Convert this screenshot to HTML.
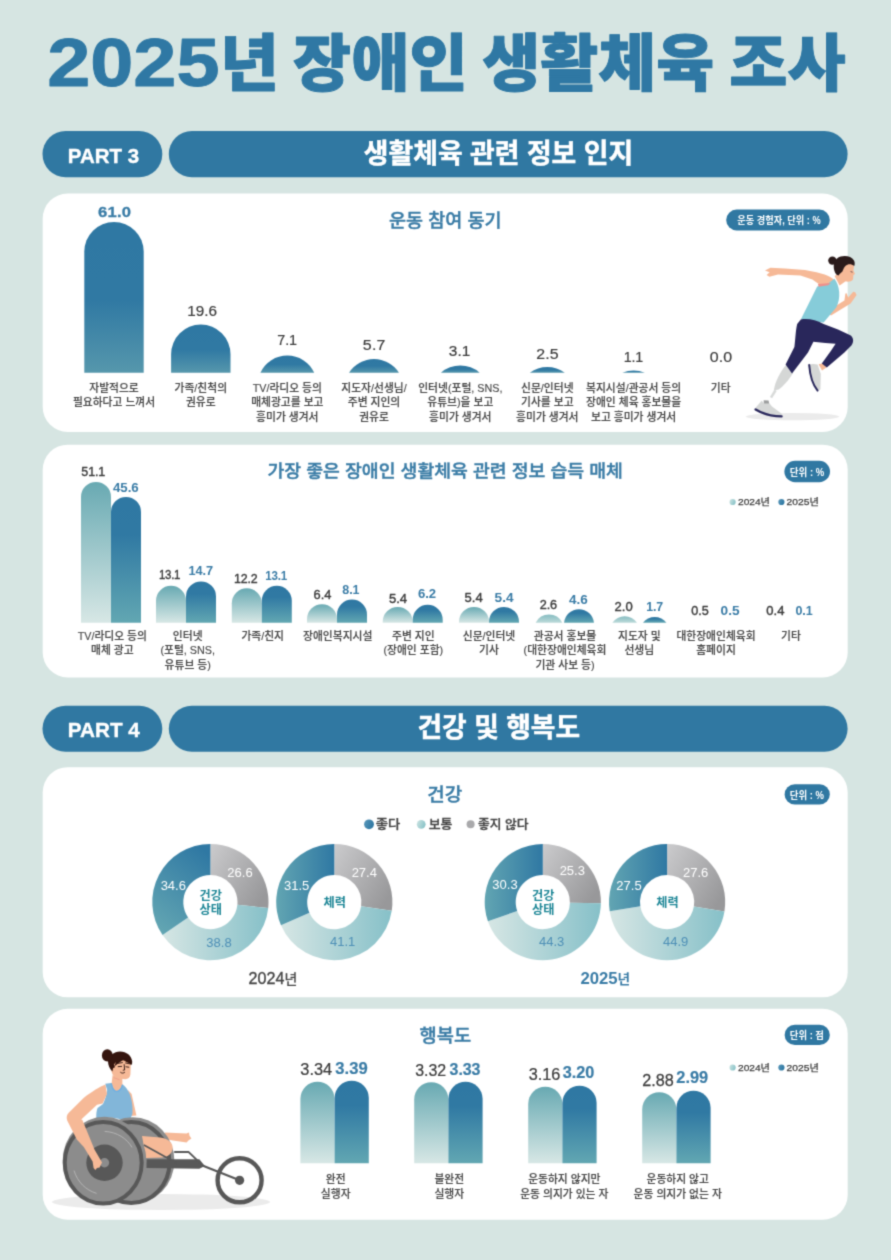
<!DOCTYPE html>
<html lang="ko">
<head>
<meta charset="utf-8">
<title>2025년 장애인 생활체육 조사</title>
<style>
html,body{margin:0;padding:0;background:#d6e5e2;}
body{width:891px;height:1260px;overflow:hidden;}
svg{display:block;}
svg text{font-family:"Liberation Sans","Noto Sans CJK KR",sans-serif;}
</style>
</head>
<body>
<svg width="891" height="1260" viewBox="0 0 891 1260">
<g filter="url(#soft)">
<rect width="891" height="1260" fill="#d6e5e2"/>
<defs>
<filter id="soft" x="0" y="0" width="891" height="1260" filterUnits="userSpaceOnUse" color-interpolation-filters="sRGB"><feConvolveMatrix order="3" kernelMatrix="1 4 1 4 16 4 1 4 1" divisor="36" edgeMode="duplicate" preserveAlpha="true"/></filter>
<linearGradient id="gS" x1="0" y1="0" x2="0" y2="1"><stop offset="0" stop-color="#2f78a3"/><stop offset="0.52" stop-color="#3079a3"/><stop offset="1" stop-color="#5697ac"/></linearGradient>
<linearGradient id="gA" x1="0" y1="0" x2="0" y2="1"><stop offset="0" stop-color="#68a9b2"/><stop offset="0.25" stop-color="#84b9bf"/><stop offset="1" stop-color="#d7e7e5"/></linearGradient>
<linearGradient id="gA2" x1="0" y1="0" x2="0" y2="1"><stop offset="0" stop-color="#86bcc1"/><stop offset="1" stop-color="#bcdad9"/></linearGradient>
<linearGradient id="gB" x1="0" y1="0" x2="0" y2="1"><stop offset="0" stop-color="#2f78a3"/><stop offset="0.3" stop-color="#3079a3"/><stop offset="1" stop-color="#62a7b2"/></linearGradient>
<linearGradient id="dGray" x1="0" y1="0" x2="1" y2="0.7"><stop offset="0" stop-color="#cbcbcd"/><stop offset="1" stop-color="#98989a"/></linearGradient>
<linearGradient id="dLight" x1="0" y1="0" x2="1" y2="0"><stop offset="0" stop-color="#d6e6e4"/><stop offset="1" stop-color="#86c0c8"/></linearGradient>
<linearGradient id="dBlue" x1="0.25" y1="1" x2="0.75" y2="0"><stop offset="0" stop-color="#62a5b2"/><stop offset="1" stop-color="#2f78a3"/></linearGradient>
<linearGradient id="lgB" x1="0" y1="0" x2="1" y2="0.4"><stop offset="0" stop-color="#5a98ba"/><stop offset="1" stop-color="#2f78a3"/></linearGradient>
<linearGradient id="lgL" x1="0" y1="0" x2="1" y2="0.4"><stop offset="0" stop-color="#cfe5e3"/><stop offset="1" stop-color="#8cc4c9"/></linearGradient>
<linearGradient id="dBlueH" x1="0" y1="0" x2="1" y2="0"><stop offset="0" stop-color="#62a5b2"/><stop offset="1" stop-color="#2f78a3"/></linearGradient>
</defs>
<text font-weight="900" fill="#2f78a4" stroke="#2f78a4" stroke-width="0.9" stroke-linejoin="round"><tspan x="47.2" y="85.5" font-size="68.5" font-weight="700" textLength="172.3" lengthAdjust="spacingAndGlyphs">2025</tspan><tspan x="219.9" y="85.8" font-size="62.4" textLength="59" lengthAdjust="spacingAndGlyphs">년</tspan><tspan font-size="10"> </tspan><tspan x="292.8" y="85.8" font-size="62.4" textLength="175" lengthAdjust="spacingAndGlyphs">장애인</tspan><tspan font-size="10"> </tspan><tspan x="482.2" y="85.8" font-size="62.4" textLength="232" lengthAdjust="spacingAndGlyphs">생활체육</tspan><tspan font-size="10"> </tspan><tspan x="729.2" y="85.8" font-size="62.4" textLength="116.5" lengthAdjust="spacingAndGlyphs">조사</tspan></text>
<rect x="42.5" y="131" width="119.8" height="46.2" rx="23.1" fill="#3078a2"/>
<rect x="168.8" y="131" width="678.8" height="46.2" rx="23.1" fill="#3078a2"/>
<text x="103.5" y="162.9" font-size="20.8" font-weight="700" fill="#fff" text-anchor="middle" textLength="71.3" lengthAdjust="spacingAndGlyphs" stroke="#fff" stroke-width="0.4" stroke-linejoin="round">PART 3</text>
<text x="498.5" y="162.6" font-size="27.2" font-weight="700" fill="#fff" text-anchor="middle" textLength="269.3" lengthAdjust="spacingAndGlyphs" stroke="#fff" stroke-width="0.5" stroke-linejoin="round">생활체육 관련 정보 인지</text>
<rect x="42.5" y="705.7" width="119.8" height="46.1" rx="23.0" fill="#3078a2"/>
<rect x="168.8" y="705.7" width="678.8" height="46.1" rx="23.0" fill="#3078a2"/>
<text x="103.8" y="737.2" font-size="20.8" font-weight="700" fill="#fff" text-anchor="middle" textLength="72.0" lengthAdjust="spacingAndGlyphs" stroke="#fff" stroke-width="0.4" stroke-linejoin="round">PART 4</text>
<text x="498.8" y="736.8" font-size="27.2" font-weight="700" fill="#fff" text-anchor="middle" textLength="162.6" lengthAdjust="spacingAndGlyphs" stroke="#fff" stroke-width="0.5" stroke-linejoin="round">건강 및 행복도</text>
<rect x="42.7" y="193.5" width="805.0" height="238.4" rx="25" fill="#fff"/>
<rect x="42.7" y="444.7" width="805.0" height="232.7" rx="25" fill="#fff"/>
<rect x="42.7" y="767.2" width="805.0" height="230.1" rx="25" fill="#fff"/>
<rect x="42.7" y="1008.8" width="805.0" height="210.9" rx="25" fill="#fff"/>
<text x="445.3" y="226.6" font-size="18" font-weight="500" fill="#3a7ca6" text-anchor="middle" textLength="112.4" lengthAdjust="spacingAndGlyphs" stroke="#3a7ca6" stroke-width="0.4" stroke-linejoin="round">운동 참여 동기</text>
<rect x="726.2" y="209.6" width="103.6" height="20.8" rx="10.4" fill="#3078a2"/>
<text x="779.0" y="224.2" font-size="10.3" font-weight="700" fill="#fff" text-anchor="middle" textLength="83.4" lengthAdjust="spacingAndGlyphs">운동 경험자, 단위 : %</text>
<path d="M84.30 372.70V251.62A29.70 29.70 0 0 1 143.70 251.62V372.70Z" fill="url(#gS)"/>
<text transform="translate(114.5 217.0) scale(1.1084680787311738 1)" font-size="15.0" font-weight="700" fill="#3a7ca6" text-anchor="middle" textLength="30.0" lengthAdjust="spacing" stroke="#3a7ca6" stroke-width="0.3" stroke-linejoin="round">61.0</text>
<text transform="translate(114.0 391.7) scale(0.945 1)" font-size="11.4" font-weight="500" fill="#484848" text-anchor="middle" stroke="#484848" stroke-width="0.15" stroke-linejoin="round">자발적으로</text>
<text transform="translate(114.0 406.3) scale(0.945 1)" font-size="11.4" font-weight="500" fill="#484848" text-anchor="middle" stroke="#484848" stroke-width="0.15" stroke-linejoin="round">필요하다고 느껴서</text>
<path d="M171.10 372.70V354.29A29.70 29.70 0 0 1 230.50 354.29V372.70Z" fill="url(#gS)"/>
<text transform="translate(202.2 315.6) scale(1.0059673194525722 1)" font-size="15.2" font-weight="400" fill="#3c3c3c" text-anchor="middle" textLength="29.6" lengthAdjust="spacing" stroke="#3c3c3c" stroke-width="0.2" stroke-linejoin="round">19.6</text>
<text transform="translate(200.8 391.7) scale(0.945 1)" font-size="11.4" font-weight="500" fill="#484848" text-anchor="middle" stroke="#484848" stroke-width="0.15" stroke-linejoin="round">가족/친척의</text>
<text transform="translate(200.8 406.3) scale(0.945 1)" font-size="11.4" font-weight="500" fill="#484848" text-anchor="middle" stroke="#484848" stroke-width="0.15" stroke-linejoin="round">권유로</text>
<path d="M260.40 372.70A29.70 29.70 0 0 1 314.20 372.70Z" fill="url(#gS)"/>
<text transform="translate(287.2 345.1) scale(0.9493917241442265 1)" font-size="15.2" font-weight="400" fill="#3c3c3c" text-anchor="middle" textLength="20.9" lengthAdjust="spacing" stroke="#3c3c3c" stroke-width="0.2" stroke-linejoin="round">7.1</text>
<text transform="translate(287.3 391.7) scale(0.945 1)" font-size="11.4" font-weight="500" fill="#484848" text-anchor="middle" stroke="#484848" stroke-width="0.15" stroke-linejoin="round">TV/라디오 등의</text>
<text transform="translate(287.3 406.3) scale(0.945 1)" font-size="11.4" font-weight="500" fill="#484848" text-anchor="middle" stroke="#484848" stroke-width="0.15" stroke-linejoin="round">매체광고를 보고</text>
<text transform="translate(287.3 421.0) scale(0.945 1)" font-size="11.4" font-weight="500" fill="#484848" text-anchor="middle" stroke="#484848" stroke-width="0.15" stroke-linejoin="round">흥미가 생겨서</text>
<path d="M349.02 372.70A29.70 29.70 0 0 1 398.98 372.70Z" fill="url(#gS)"/>
<text transform="translate(374.1 350.4) scale(1.0516211305356782 1)" font-size="15.2" font-weight="400" fill="#3c3c3c" text-anchor="middle" textLength="21.4" lengthAdjust="spacing" stroke="#3c3c3c" stroke-width="0.2" stroke-linejoin="round">5.7</text>
<text transform="translate(374.0 391.7) scale(0.945 1)" font-size="11.4" font-weight="500" fill="#484848" text-anchor="middle" stroke="#484848" stroke-width="0.15" stroke-linejoin="round">지도자/선생님/</text>
<text transform="translate(374.0 406.3) scale(0.945 1)" font-size="11.4" font-weight="500" fill="#484848" text-anchor="middle" stroke="#484848" stroke-width="0.15" stroke-linejoin="round">주변 지인의</text>
<text transform="translate(374.0 421.0) scale(0.945 1)" font-size="11.4" font-weight="500" fill="#484848" text-anchor="middle" stroke="#484848" stroke-width="0.15" stroke-linejoin="round">권유로</text>
<path d="M440.93 372.70A29.70 29.70 0 0 1 479.67 372.70Z" fill="url(#gS)"/>
<text transform="translate(459.6 356.1) scale(1.0140609462147308 1)" font-size="15.2" font-weight="400" fill="#3c3c3c" text-anchor="middle" textLength="21.2" lengthAdjust="spacing" stroke="#3c3c3c" stroke-width="0.2" stroke-linejoin="round">3.1</text>
<text transform="translate(460.3 391.7) scale(0.945 1)" font-size="11.4" font-weight="500" fill="#484848" text-anchor="middle" stroke="#484848" stroke-width="0.15" stroke-linejoin="round">인터넷(포털, SNS,</text>
<text transform="translate(460.3 406.3) scale(0.945 1)" font-size="11.4" font-weight="500" fill="#484848" text-anchor="middle" stroke="#484848" stroke-width="0.15" stroke-linejoin="round">유튜브)을 보고</text>
<text transform="translate(460.3 421.0) scale(0.945 1)" font-size="11.4" font-weight="500" fill="#484848" text-anchor="middle" stroke="#484848" stroke-width="0.15" stroke-linejoin="round">흥미가 생겨서</text>
<path d="M529.80 372.70A29.70 29.70 0 0 1 564.80 372.70Z" fill="url(#gS)"/>
<text transform="translate(547.5 358.7) scale(1.0478803684000229 1)" font-size="15.2" font-weight="400" fill="#3c3c3c" text-anchor="middle" textLength="21.4" lengthAdjust="spacing" stroke="#3c3c3c" stroke-width="0.2" stroke-linejoin="round">2.5</text>
<text transform="translate(547.3 391.7) scale(0.945 1)" font-size="11.4" font-weight="500" fill="#484848" text-anchor="middle" stroke="#484848" stroke-width="0.15" stroke-linejoin="round">신문/인터넷</text>
<text transform="translate(547.3 406.3) scale(0.945 1)" font-size="11.4" font-weight="500" fill="#484848" text-anchor="middle" stroke="#484848" stroke-width="0.15" stroke-linejoin="round">기사를 보고</text>
<text transform="translate(547.3 421.0) scale(0.945 1)" font-size="11.4" font-weight="500" fill="#484848" text-anchor="middle" stroke="#484848" stroke-width="0.15" stroke-linejoin="round">흥미가 생겨서</text>
<path d="M622.31 372.70A29.70 29.70 0 0 1 644.89 372.70Z" fill="url(#gS)"/>
<text transform="translate(633.4 361.7) scale(0.9378664030796259 1)" font-size="15.2" font-weight="400" fill="#3c3c3c" text-anchor="middle" textLength="20.8" lengthAdjust="spacing" stroke="#3c3c3c" stroke-width="0.2" stroke-linejoin="round">1.1</text>
<text transform="translate(633.6 391.7) scale(0.945 1)" font-size="11.4" font-weight="500" fill="#484848" text-anchor="middle" stroke="#484848" stroke-width="0.15" stroke-linejoin="round">복지시설/관공서 등의</text>
<text transform="translate(633.6 406.3) scale(0.945 1)" font-size="11.4" font-weight="500" fill="#484848" text-anchor="middle" stroke="#484848" stroke-width="0.15" stroke-linejoin="round">장애인 체육 홍보물을</text>
<text transform="translate(633.6 421.0) scale(0.945 1)" font-size="11.4" font-weight="500" fill="#484848" text-anchor="middle" stroke="#484848" stroke-width="0.15" stroke-linejoin="round">보고 흥미가 생겨서</text>
<text transform="translate(720.9 361.7) scale(1.0516211305356802 1)" font-size="15.2" font-weight="400" fill="#3c3c3c" text-anchor="middle" textLength="21.4" lengthAdjust="spacing" stroke="#3c3c3c" stroke-width="0.2" stroke-linejoin="round">0.0</text>
<text transform="translate(720.7 391.7) scale(0.945 1)" font-size="11.4" font-weight="500" fill="#484848" text-anchor="middle" stroke="#484848" stroke-width="0.15" stroke-linejoin="round">기타</text>
<text x="445.2" y="476.7" font-size="17.5" font-weight="500" fill="#3a7ca6" text-anchor="middle" textLength="355.5" lengthAdjust="spacingAndGlyphs" stroke="#3a7ca6" stroke-width="0.4" stroke-linejoin="round">가장 좋은 장애인 생활체육 관련 정보 습득 매체</text>
<rect x="784.4" y="460.8" width="45.6" height="21.4" rx="10.7" fill="#3078a2"/>
<text x="807.0" y="475.6" font-size="10.3" font-weight="700" fill="#fff" text-anchor="middle" textLength="34.5" lengthAdjust="spacingAndGlyphs">단위 : %</text>
<circle cx="732.6" cy="502" r="3.1" fill="url(#lgL)"/>
<circle cx="781.4" cy="502" r="3.1" fill="url(#lgB)"/>
<text font-weight="400" fill="#3c3c3c" stroke="#3c3c3c" stroke-width="0.25"><tspan x="738.0" y="505.3" font-size="9.6" textLength="22.6" lengthAdjust="spacingAndGlyphs">2024</tspan><tspan x="760.6" y="505.3" font-size="8.6" textLength="9.4" lengthAdjust="spacingAndGlyphs">년</tspan></text>
<text font-weight="400" fill="#3c3c3c" stroke="#3c3c3c" stroke-width="0.25"><tspan x="786.6" y="505.3" font-size="9.6" textLength="22.8" lengthAdjust="spacingAndGlyphs">2025</tspan><tspan x="809.4" y="505.3" font-size="8.6" textLength="9.4" lengthAdjust="spacingAndGlyphs">년</tspan></text>
<path d="M81.00 622.70V496.89A15.00 15.00 0 0 1 111.00 496.89V622.70Z" fill="url(#gA)"/>
<path d="M111.00 622.70V511.94A15.00 15.00 0 0 1 141.00 511.94V622.70Z" fill="url(#gB)"/>
<text transform="translate(93.3 476.0) scale(0.9560537929100038 1)" font-size="13.1" font-weight="400" fill="#3c3c3c" text-anchor="middle" textLength="25.2" lengthAdjust="spacing" stroke="#3c3c3c" stroke-width="0.4" stroke-linejoin="round">51.1</text>
<text transform="translate(125.8 492.3) scale(0.9915112753900163 1)" font-size="13.4" font-weight="700" fill="#3a7ca6" text-anchor="middle" textLength="26.0" lengthAdjust="spacing">45.6</text>
<text transform="translate(112.3 640.0) scale(0.945 1)" font-size="11.4" font-weight="500" fill="#484848" text-anchor="middle" stroke="#484848" stroke-width="0.15" stroke-linejoin="round">TV/라디오 등의</text>
<text transform="translate(112.3 654.4) scale(0.945 1)" font-size="11.4" font-weight="500" fill="#484848" text-anchor="middle" stroke="#484848" stroke-width="0.15" stroke-linejoin="round">매체 광고</text>
<path d="M156.00 622.70V600.86A15.00 15.00 0 0 1 186.00 600.86V622.70Z" fill="url(#gA)"/>
<path d="M186.00 622.70V596.48A15.00 15.00 0 0 1 216.00 596.48V622.70Z" fill="url(#gB)"/>
<text transform="translate(169.7 579.4) scale(0.8726085473532643 1)" font-size="13.1" font-weight="400" fill="#3c3c3c" text-anchor="middle" textLength="24.6" lengthAdjust="spacing" stroke="#3c3c3c" stroke-width="0.4" stroke-linejoin="round">13.1</text>
<text transform="translate(200.8 574.8) scale(0.9513378151489201 1)" font-size="13.4" font-weight="700" fill="#3a7ca6" text-anchor="middle" textLength="25.8" lengthAdjust="spacing">14.7</text>
<text transform="translate(187.7 640.0) scale(0.945 1)" font-size="11.4" font-weight="500" fill="#484848" text-anchor="middle" stroke="#484848" stroke-width="0.15" stroke-linejoin="round">인터넷</text>
<text transform="translate(187.7 654.4) scale(0.945 1)" font-size="11.4" font-weight="500" fill="#484848" text-anchor="middle" stroke="#484848" stroke-width="0.15" stroke-linejoin="round">(포털, SNS,</text>
<text transform="translate(187.7 668.8) scale(0.945 1)" font-size="11.4" font-weight="500" fill="#484848" text-anchor="middle" stroke="#484848" stroke-width="0.15" stroke-linejoin="round">유튜브 등)</text>
<path d="M231.80 622.70V603.32A15.00 15.00 0 0 1 261.80 603.32V622.70Z" fill="url(#gA)"/>
<path d="M261.80 622.70V600.86A15.00 15.00 0 0 1 291.80 600.86V622.70Z" fill="url(#gB)"/>
<text transform="translate(245.8 582.6) scale(0.9465210141404 1)" font-size="13.1" font-weight="400" fill="#3c3c3c" text-anchor="middle" textLength="25.1" lengthAdjust="spacing" stroke="#3c3c3c" stroke-width="0.4" stroke-linejoin="round">12.2</text>
<text transform="translate(276.2 579.8) scale(0.8664970479140197 1)" font-size="13.4" font-weight="700" fill="#3a7ca6" text-anchor="middle" textLength="25.2" lengthAdjust="spacing">13.1</text>
<text transform="translate(262.7 640.0) scale(0.945 1)" font-size="11.4" font-weight="500" fill="#484848" text-anchor="middle" stroke="#484848" stroke-width="0.15" stroke-linejoin="round">가족/친지</text>
<path d="M307.00 622.70V619.19A15.00 15.00 0 0 1 337.00 619.19V622.70Z" fill="url(#gA)"/>
<path d="M337.00 622.70V614.54A15.00 15.00 0 0 1 367.00 614.54V622.70Z" fill="url(#gB)"/>
<text transform="translate(322.5 599.1) scale(0.9819901354533305 1)" font-size="13.1" font-weight="400" fill="#3c3c3c" text-anchor="middle" textLength="18.1" lengthAdjust="spacing" stroke="#3c3c3c" stroke-width="0.4" stroke-linejoin="round">6.4</text>
<text transform="translate(350.9 593.6) scale(0.9339017934574768 1)" font-size="13.4" font-weight="700" fill="#3a7ca6" text-anchor="middle" textLength="18.3" lengthAdjust="spacing">8.1</text>
<text transform="translate(337.7 640.0) scale(0.945 1)" font-size="11.4" font-weight="500" fill="#484848" text-anchor="middle" stroke="#484848" stroke-width="0.15" stroke-linejoin="round">장애인복지시설</text>
<path d="M382.70 622.70V621.93A15.00 15.00 0 0 1 412.70 621.93V622.70Z" fill="url(#gA)"/>
<path d="M412.70 622.70V619.74A15.00 15.00 0 0 1 442.70 619.74V622.70Z" fill="url(#gB)"/>
<text transform="translate(398.0 602.7) scale(0.9996045715888643 1)" font-size="13.1" font-weight="400" fill="#3c3c3c" text-anchor="middle" textLength="18.2" lengthAdjust="spacing" stroke="#3c3c3c" stroke-width="0.4" stroke-linejoin="round">5.4</text>
<text transform="translate(427.0 597.9) scale(0.9816607605371808 1)" font-size="13.4" font-weight="700" fill="#3a7ca6" text-anchor="middle" textLength="18.5" lengthAdjust="spacing">6.2</text>
<text transform="translate(413.3 640.0) scale(0.945 1)" font-size="11.4" font-weight="500" fill="#484848" text-anchor="middle" stroke="#484848" stroke-width="0.15" stroke-linejoin="round">주변 지인</text>
<text transform="translate(413.3 654.4) scale(0.945 1)" font-size="11.4" font-weight="500" fill="#484848" text-anchor="middle" stroke="#484848" stroke-width="0.15" stroke-linejoin="round">(장애인 포함)</text>
<path d="M459.00 622.70V621.93A15.00 15.00 0 0 1 489.00 621.93V622.70Z" fill="url(#gA)"/>
<path d="M489.00 622.70V621.93A15.00 15.00 0 0 1 519.00 621.93V622.70Z" fill="url(#gB)"/>
<text transform="translate(473.6 602.4) scale(0.9952082858058469 1)" font-size="13.1" font-weight="400" fill="#3c3c3c" text-anchor="middle" textLength="18.2" lengthAdjust="spacing" stroke="#3c3c3c" stroke-width="0.4" stroke-linejoin="round">5.4</text>
<text transform="translate(504.1 602.3) scale(1.0203073493120254 1)" font-size="13.4" font-weight="700" fill="#3a7ca6" text-anchor="middle" textLength="18.7" lengthAdjust="spacing">5.4</text>
<text transform="translate(489.0 640.0) scale(0.945 1)" font-size="11.4" font-weight="500" fill="#484848" text-anchor="middle" stroke="#484848" stroke-width="0.15" stroke-linejoin="round">신문/인터넷</text>
<text transform="translate(489.0 654.4) scale(0.945 1)" font-size="11.4" font-weight="500" fill="#484848" text-anchor="middle" stroke="#484848" stroke-width="0.15" stroke-linejoin="round">기사</text>
<path d="M535.67 622.70A15.00 15.00 0 0 1 562.33 622.70Z" fill="url(#gA2)"/>
<path d="M564.07 622.70A15.00 15.00 0 0 1 593.93 622.70Z" fill="url(#gB)"/>
<text transform="translate(548.4 609.1) scale(0.9687273520313099 1)" font-size="13.1" font-weight="400" fill="#3c3c3c" text-anchor="middle" textLength="18.1" lengthAdjust="spacing" stroke="#3c3c3c" stroke-width="0.4" stroke-linejoin="round">2.6</text>
<text transform="translate(578.3 603.8) scale(1.007466468691579 1)" font-size="13.4" font-weight="700" fill="#3a7ca6" text-anchor="middle" textLength="18.7" lengthAdjust="spacing">4.6</text>
<text transform="translate(565.0 640.0) scale(0.945 1)" font-size="11.4" font-weight="500" fill="#484848" text-anchor="middle" stroke="#484848" stroke-width="0.15" stroke-linejoin="round">관공서 홍보물</text>
<text transform="translate(565.0 654.4) scale(0.945 1)" font-size="11.4" font-weight="500" fill="#484848" text-anchor="middle" stroke="#484848" stroke-width="0.15" stroke-linejoin="round">(대한장애인체육회</text>
<text transform="translate(565.0 668.8) scale(0.945 1)" font-size="11.4" font-weight="500" fill="#484848" text-anchor="middle" stroke="#484848" stroke-width="0.15" stroke-linejoin="round">기관 사보 등)</text>
<path d="M612.36 622.70A15.00 15.00 0 0 1 637.04 622.70Z" fill="url(#gA2)"/>
<path d="M642.97 622.70A15.00 15.00 0 0 1 666.43 622.70Z" fill="url(#gB)"/>
<text transform="translate(623.6 611.0) scale(0.9952082858058444 1)" font-size="13.1" font-weight="400" fill="#3c3c3c" text-anchor="middle" textLength="18.2" lengthAdjust="spacing" stroke="#3c3c3c" stroke-width="0.4" stroke-linejoin="round">2.0</text>
<text transform="translate(654.7 611.0) scale(0.9207712414915222 1)" font-size="13.4" font-weight="700" fill="#3a7ca6" text-anchor="middle" textLength="18.2" lengthAdjust="spacing">1.7</text>
<text transform="translate(639.3 640.0) scale(0.945 1)" font-size="11.4" font-weight="500" fill="#484848" text-anchor="middle" stroke="#484848" stroke-width="0.15" stroke-linejoin="round">지도자 및</text>
<text transform="translate(639.3 654.4) scale(0.945 1)" font-size="11.4" font-weight="500" fill="#484848" text-anchor="middle" stroke="#484848" stroke-width="0.15" stroke-linejoin="round">선생님</text>
<text transform="translate(700.0 615.0) scale(0.9642963477808538 1)" font-size="13.1" font-weight="400" fill="#3c3c3c" text-anchor="middle" textLength="18.0" lengthAdjust="spacing" stroke="#3c3c3c" stroke-width="0.4" stroke-linejoin="round">0.5</text>
<text transform="translate(730.1 615.0) scale(1.0203073493120254 1)" font-size="13.4" font-weight="700" fill="#3a7ca6" text-anchor="middle" textLength="18.7" lengthAdjust="spacing">0.5</text>
<text transform="translate(716.0 640.0) scale(0.945 1)" font-size="11.4" font-weight="500" fill="#484848" text-anchor="middle" stroke="#484848" stroke-width="0.15" stroke-linejoin="round">대한장애인체육회</text>
<text transform="translate(716.0 654.4) scale(0.945 1)" font-size="11.4" font-weight="500" fill="#484848" text-anchor="middle" stroke="#484848" stroke-width="0.15" stroke-linejoin="round">홈페이지</text>
<text transform="translate(775.4 615.0) scale(0.9952082858058444 1)" font-size="13.1" font-weight="400" fill="#3c3c3c" text-anchor="middle" textLength="18.2" lengthAdjust="spacing" stroke="#3c3c3c" stroke-width="0.4" stroke-linejoin="round">0.4</text>
<text transform="translate(804.1 615.0) scale(0.9339017934574743 1)" font-size="13.4" font-weight="700" fill="#3a7ca6" text-anchor="middle" textLength="18.3" lengthAdjust="spacing">0.1</text>
<text transform="translate(791.0 640.0) scale(0.945 1)" font-size="11.4" font-weight="500" fill="#484848" text-anchor="middle" stroke="#484848" stroke-width="0.15" stroke-linejoin="round">기타</text>
<text x="444.7" y="800.8" font-size="18" font-weight="500" fill="#3a7ca6" text-anchor="middle" textLength="35.0" lengthAdjust="spacingAndGlyphs" stroke="#3a7ca6" stroke-width="0.4" stroke-linejoin="round">건강</text>
<rect x="784.6" y="784.2" width="45.2" height="20.4" rx="10.2" fill="#3078a2"/>
<text x="806.9" y="798.5" font-size="10.3" font-weight="700" fill="#fff" text-anchor="middle" textLength="34.3" lengthAdjust="spacingAndGlyphs">단위 : %</text>
<circle cx="369" cy="824.3" r="4.9" fill="url(#lgB)"/>
<circle cx="421.2" cy="824.3" r="4.4" fill="url(#lgL)"/>
<circle cx="470.6" cy="824.3" r="4" fill="#a9a9ab"/>
<text x="388.0" y="829.3" font-size="12.2" font-weight="500" fill="#444" text-anchor="middle" textLength="24.5" lengthAdjust="spacingAndGlyphs" stroke="#444" stroke-width="0.3" stroke-linejoin="round">좋다</text>
<text x="440.6" y="829.3" font-size="12.2" font-weight="500" fill="#444" text-anchor="middle" textLength="23.8" lengthAdjust="spacingAndGlyphs" stroke="#444" stroke-width="0.3" stroke-linejoin="round">보통</text>
<text x="503.3" y="829.3" font-size="12.2" font-weight="500" fill="#444" text-anchor="middle" textLength="50.5" lengthAdjust="spacingAndGlyphs" stroke="#444" stroke-width="0.3" stroke-linejoin="round">좋지 않다</text>
<path d="M210.40 844.00A58.1 58.1 0 0 1 268.21 907.93L237.36 904.82A27.1 27.1 0 0 0 210.40 875.00Z" fill="url(#dGray)"/>
<path d="M268.21 907.93A58.1 58.1 0 0 1 162.55 935.06L188.08 917.47A27.1 27.1 0 0 0 237.36 904.82Z" fill="url(#dLight)"/>
<path d="M162.55 935.06A58.1 58.1 0 0 1 210.40 844.00L210.40 875.00A27.1 27.1 0 0 0 188.08 917.47Z" fill="url(#dBlue)"/>
<text x="240.0" y="877.3" font-size="13" font-weight="400" fill="#fff" text-anchor="middle">26.6</text>
<text x="173.3" y="890.3" font-size="13" font-weight="400" fill="#fff" text-anchor="middle">34.6</text>
<text x="219.0" y="946.9" font-size="13" font-weight="400" fill="#4d8fb6" text-anchor="middle">38.8</text>
<text x="210.8" y="899.7" font-size="12.2" font-weight="700" fill="#1d8696" text-anchor="middle">건강</text>
<text x="210.8" y="914.0" font-size="12.2" font-weight="700" fill="#1d8696" text-anchor="middle">상태</text>
<path d="M334.30 844.00A58.1 58.1 0 0 1 391.74 910.83L361.09 906.17A27.1 27.1 0 0 0 334.30 875.00Z" fill="url(#dGray)"/>
<path d="M391.74 910.83A58.1 58.1 0 0 1 280.98 925.17L309.43 912.86A27.1 27.1 0 0 0 361.09 906.17Z" fill="url(#dLight)"/>
<path d="M280.98 925.17A58.1 58.1 0 0 1 334.30 844.00L334.30 875.00A27.1 27.1 0 0 0 309.43 912.86Z" fill="url(#dBlueH)"/>
<text x="364.3" y="876.9" font-size="13" font-weight="400" fill="#fff" text-anchor="middle">27.4</text>
<text x="296.7" y="889.6" font-size="13" font-weight="400" fill="#fff" text-anchor="middle">31.5</text>
<text x="342.7" y="946.3" font-size="13" font-weight="400" fill="#4d8fb6" text-anchor="middle">41.1</text>
<text x="334.7" y="906.5" font-size="12.2" font-weight="700" fill="#1d8696" text-anchor="middle">체력</text>
<path d="M542.80 844.00A58.1 58.1 0 0 1 600.89 903.29L569.89 902.65A27.1 27.1 0 0 0 542.80 875.00Z" fill="url(#dGray)"/>
<path d="M600.89 903.29A58.1 58.1 0 0 1 487.93 921.20L517.21 911.01A27.1 27.1 0 0 0 569.89 902.65Z" fill="url(#dLight)"/>
<path d="M487.93 921.20A58.1 58.1 0 0 1 542.80 844.00L542.80 875.00A27.1 27.1 0 0 0 517.21 911.01Z" fill="url(#dBlueH)"/>
<text x="572.3" y="875.3" font-size="13" font-weight="400" fill="#fff" text-anchor="middle">25.3</text>
<text x="505.0" y="888.6" font-size="13" font-weight="400" fill="#fff" text-anchor="middle">30.3</text>
<text x="551.7" y="945.6" font-size="13" font-weight="400" fill="#4d8fb6" text-anchor="middle">44.3</text>
<text x="543.2" y="899.7" font-size="12.2" font-weight="700" fill="#1d8696" text-anchor="middle">건강</text>
<text x="543.2" y="914.0" font-size="12.2" font-weight="700" fill="#1d8696" text-anchor="middle">상태</text>
<path d="M667.10 844.00A58.1 58.1 0 0 1 724.43 911.55L693.84 906.51A27.1 27.1 0 0 0 667.10 875.00Z" fill="url(#dGray)"/>
<path d="M724.43 911.55A58.1 58.1 0 0 1 609.72 911.19L640.33 906.34A27.1 27.1 0 0 0 693.84 906.51Z" fill="url(#dLight)"/>
<path d="M609.72 911.19A58.1 58.1 0 0 1 667.10 844.00L667.10 875.00A27.1 27.1 0 0 0 640.33 906.34Z" fill="url(#dBlueH)"/>
<text x="695.7" y="876.9" font-size="13" font-weight="400" fill="#fff" text-anchor="middle">27.6</text>
<text x="629.0" y="889.6" font-size="13" font-weight="400" fill="#fff" text-anchor="middle">27.5</text>
<text x="675.7" y="946.3" font-size="13" font-weight="400" fill="#4d8fb6" text-anchor="middle">44.9</text>
<text x="667.5" y="906.5" font-size="12.2" font-weight="700" fill="#1d8696" text-anchor="middle">체력</text>
<text font-weight="400" fill="#444" stroke="#444" stroke-width="0.35"><tspan x="248.6" y="983.9" font-size="16.2" textLength="35.8" lengthAdjust="spacingAndGlyphs">2024</tspan><tspan x="284.4" y="983.9" font-size="13.2" textLength="12.8" lengthAdjust="spacingAndGlyphs">년</tspan></text>
<text font-weight="700" fill="#3a7ca6"><tspan x="580.4" y="983.9" font-size="16.2" textLength="37.2" lengthAdjust="spacingAndGlyphs">2025</tspan><tspan x="617.6" y="983.9" font-size="13.2" textLength="12.6" lengthAdjust="spacingAndGlyphs">년</tspan></text>
<text x="445.4" y="1042.4" font-size="18" font-weight="500" fill="#3a7ca6" text-anchor="middle" textLength="51.7" lengthAdjust="spacingAndGlyphs" stroke="#3a7ca6" stroke-width="0.4" stroke-linejoin="round">행복도</text>
<rect x="784.6" y="1024.7" width="45.2" height="20.4" rx="10.2" fill="#3078a2"/>
<text x="806.9" y="1038.8" font-size="10.3" font-weight="700" fill="#fff" text-anchor="middle" textLength="34.2" lengthAdjust="spacingAndGlyphs">단위 : 점</text>
<circle cx="732.6" cy="1067.5" r="3.1" fill="url(#lgL)"/>
<circle cx="781.4" cy="1067.5" r="3.1" fill="url(#lgB)"/>
<text font-weight="400" fill="#3c3c3c" stroke="#3c3c3c" stroke-width="0.25"><tspan x="738.0" y="1070.8" font-size="9.6" textLength="22.6" lengthAdjust="spacingAndGlyphs">2024</tspan><tspan x="760.6" y="1070.8" font-size="8.6" textLength="9.4" lengthAdjust="spacingAndGlyphs">년</tspan></text>
<text font-weight="400" fill="#3c3c3c" stroke="#3c3c3c" stroke-width="0.25"><tspan x="786.6" y="1070.8" font-size="9.6" textLength="22.8" lengthAdjust="spacingAndGlyphs">2025</tspan><tspan x="809.4" y="1070.8" font-size="8.6" textLength="9.4" lengthAdjust="spacingAndGlyphs">년</tspan></text>
<path d="M300.40 1163.30V1098.80A17.10 17.10 0 0 1 334.60 1098.80V1163.30Z" fill="url(#gA)"/>
<path d="M334.60 1163.30V1097.80A17.10 17.10 0 0 1 368.80 1097.80V1163.30Z" fill="url(#gB)"/>
<text transform="translate(316.2 1074.9) scale(0.9875087598893856 1)" font-size="16.6" font-weight="400" fill="#3c3c3c" text-anchor="middle" textLength="32.2" lengthAdjust="spacing" stroke="#3c3c3c" stroke-width="0.25" stroke-linejoin="round">3.34</text>
<text transform="translate(351.5 1073.7) scale(1.0023866384357207 1)" font-size="16.6" font-weight="700" fill="#3a7ca6" text-anchor="middle" textLength="32.3" lengthAdjust="spacing" stroke="#3a7ca6" stroke-width="0.2" stroke-linejoin="round">3.39</text>
<text transform="translate(335.7 1183.0) scale(0.945 1)" font-size="11.4" font-weight="500" fill="#484848" text-anchor="middle" stroke="#484848" stroke-width="0.15" stroke-linejoin="round">완전</text>
<text transform="translate(335.7 1198.0) scale(0.945 1)" font-size="11.4" font-weight="500" fill="#484848" text-anchor="middle" stroke="#484848" stroke-width="0.15" stroke-linejoin="round">실행자</text>
<path d="M414.20 1163.30V1099.40A17.10 17.10 0 0 1 448.40 1099.40V1163.30Z" fill="url(#gA)"/>
<path d="M448.40 1163.30V1098.80A17.10 17.10 0 0 1 482.60 1098.80V1163.30Z" fill="url(#gB)"/>
<text transform="translate(430.7 1075.9) scale(0.962586649596523 1)" font-size="16.6" font-weight="400" fill="#3c3c3c" text-anchor="middle" textLength="32.0" lengthAdjust="spacing" stroke="#3c3c3c" stroke-width="0.25" stroke-linejoin="round">3.32</text>
<text transform="translate(465.0 1075.1) scale(0.962586649596523 1)" font-size="16.6" font-weight="700" fill="#3a7ca6" text-anchor="middle" textLength="32.0" lengthAdjust="spacing" stroke="#3a7ca6" stroke-width="0.2" stroke-linejoin="round">3.33</text>
<text transform="translate(449.3 1183.0) scale(0.945 1)" font-size="11.4" font-weight="500" fill="#484848" text-anchor="middle" stroke="#484848" stroke-width="0.15" stroke-linejoin="round">불완전</text>
<text transform="translate(449.3 1198.0) scale(0.945 1)" font-size="11.4" font-weight="500" fill="#484848" text-anchor="middle" stroke="#484848" stroke-width="0.15" stroke-linejoin="round">실행자</text>
<path d="M528.20 1163.30V1103.80A17.10 17.10 0 0 1 562.40 1103.80V1163.30Z" fill="url(#gA)"/>
<path d="M562.40 1163.30V1102.80A17.10 17.10 0 0 1 596.60 1102.80V1163.30Z" fill="url(#gB)"/>
<text transform="translate(544.6 1079.9) scale(0.98004880588338 1)" font-size="16.6" font-weight="400" fill="#3c3c3c" text-anchor="middle" textLength="32.1" lengthAdjust="spacing" stroke="#3c3c3c" stroke-width="0.25" stroke-linejoin="round">3.16</text>
<text transform="translate(578.6 1078.4) scale(0.98004880588338 1)" font-size="16.6" font-weight="700" fill="#3a7ca6" text-anchor="middle" textLength="32.1" lengthAdjust="spacing" stroke="#3a7ca6" stroke-width="0.2" stroke-linejoin="round">3.20</text>
<text transform="translate(564.3 1183.0) scale(0.945 1)" font-size="11.4" font-weight="500" fill="#484848" text-anchor="middle" stroke="#484848" stroke-width="0.15" stroke-linejoin="round">운동하지 않지만</text>
<text transform="translate(564.3 1198.0) scale(0.945 1)" font-size="11.4" font-weight="500" fill="#484848" text-anchor="middle" stroke="#484848" stroke-width="0.15" stroke-linejoin="round">운동 의지가 있는 자</text>
<path d="M642.20 1163.30V1109.40A17.10 17.10 0 0 1 676.40 1109.40V1163.30Z" fill="url(#gA)"/>
<path d="M676.40 1163.30V1107.80A17.10 17.10 0 0 1 710.60 1107.80V1163.30Z" fill="url(#gB)"/>
<text transform="translate(658.0 1085.9) scale(0.9775590018750945 1)" font-size="16.6" font-weight="400" fill="#3c3c3c" text-anchor="middle" textLength="32.1" lengthAdjust="spacing" stroke="#3c3c3c" stroke-width="0.25" stroke-linejoin="round">2.88</text>
<text transform="translate(692.2 1083.4) scale(0.9875087598893856 1)" font-size="16.6" font-weight="700" fill="#3a7ca6" text-anchor="middle" textLength="32.2" lengthAdjust="spacing" stroke="#3a7ca6" stroke-width="0.2" stroke-linejoin="round">2.99</text>
<text transform="translate(677.7 1183.0) scale(0.945 1)" font-size="11.4" font-weight="500" fill="#484848" text-anchor="middle" stroke="#484848" stroke-width="0.15" stroke-linejoin="round">운동하지 않고</text>
<text transform="translate(677.7 1198.0) scale(0.945 1)" font-size="11.4" font-weight="500" fill="#484848" text-anchor="middle" stroke="#484848" stroke-width="0.15" stroke-linejoin="round">운동 의지가 없는 자</text>
<g id="runner">
<ellipse cx="792.5" cy="416.6" rx="46.8" ry="3.7" fill="#ebebeb"/>
<path d="M836.4 305.5L844.4 300.4L845.4 293.4L846.6 293.2L848.2 297.4L853.2 291.8L855.2 292.2L856.6 295L850.6 303.4L831 315.6L829.2 314Z" fill="#f6b997"/>
<path d="M833.8 279.6C830 275.6 823 273.4 805 270L785 268.6L770.4 267.8L765 270.6L769.6 272.2L766.6 275L769.4 276.8L778 274.6L800.4 275.6L812.4 279.4L818.4 283.8L820.4 286L831 284Z" fill="#f6b997"/>
<path d="M834.6 276L841.6 271.6L846 281L839.6 285.6Z" fill="#f6b997"/>
<path d="M817.2 286.6L828 283.6L834.4 278.8C836.8 282 838.6 286 839.2 292C839.6 298 838.6 303 836.2 307.4L823.6 322.6L800.8 319.6Z" fill="#86ccd9"/>
<path d="M818 284L830.8 283L828.2 285.2L818.6 286.8Z" fill="#ee908c"/>
<path d="M843 262C848 259.6 853.4 262 854 266.6L853.4 270.4L855 274L853.4 275L853 279.6C851 282 847.4 282.4 845 281C841.4 277 840.6 268 843 262Z" fill="#f6b997"/>
<path d="M836.6 274.8C832.8 270 832.6 262 837 258.4C842 254.6 851 255.4 854 260.4C855 262.6 854.8 264.6 854.2 266C851.4 263.6 848 263.6 845.4 266C843.4 268 843.2 270 842.4 271.6C840.4 273 839 275 838.6 275.4Z" fill="#2b1b1b"/>
<circle cx="832.4" cy="260.6" r="4.2" fill="#2b1b1b"/>
<path d="M850.6 271.6L852.6 272.2" stroke="#3a2a3a" stroke-width="0.7" fill="none"/>
<path d="M818.6 364.2L823 363.2L826.4 367.6L822 370.6Z" fill="#f6b997"/>
<path d="M808.6 365.2C811 363.8 815 363.8 817.6 364.6L820.8 374L820.4 389.6L817 390.8C813 386 810 377 808.6 365.2Z" fill="#d5d7d6"/>
<path d="M809.2 365C810 376 813 385 817.6 390.6" stroke="#29275b" stroke-width="2" fill="none" stroke-linecap="round"/>
<path d="M786 365L791.8 365.4L792.6 373.4C789 380 783 386.4 778.6 389.4L773.8 390.4C775 382 780 372 786 365Z" fill="#d5d7d6"/>
<path d="M775.6 390.2L771 397.6" stroke="#d9dbda" stroke-width="2.6" fill="none"/>
<path d="M763.6 400.2L768.6 400.4L769.4 404.8L764 404.6Z" fill="#9c9e9e"/>
<path d="M755.8 407.6L761.6 400.8L764.4 403.6L769.6 403.6L772 406.6L781.4 413.6L782 416.4L767.4 416L755 410Z" fill="#d5d7d6"/>
<path d="M755.6 409.4C763 413.8 772 416.2 781.6 416.4" stroke="#29275b" stroke-width="2.3" fill="none" stroke-linecap="round"/>
<path d="M800.8 319.4C808 318.2 816 319.8 823.6 324L838 329.6L849.8 335C853.6 337 854.2 341.6 851.4 345.6L844.4 352.6L826.8 367.4L821.8 363.6L831 350.8L835.6 343.8L825.4 343L813.4 341.8L808 352.4L792 373.4L785.6 364.6L794.4 347C795.4 340 795.6 330 797.2 324Z" fill="#29275b"/>
</g>
<g id="wheelchair">
<ellipse cx="161" cy="1202" rx="109" ry="8" fill="#ebebeb"/>
<path d="M128 1090L131.6 1094L136.4 1115.6L131 1116Z" fill="#f6b997"/>
<path d="M165 1132.6L186.4 1133.4L189 1132.6L189.4 1135.4L191.4 1138.6L188.4 1140.4L186.6 1142.4L173 1140.4L165 1139Z" fill="#f6b997"/>
<path d="M105.2 1083.8L111.4 1083L122.2 1084.4L124 1085.4C127.6 1089 130 1093.6 131 1098C132.6 1104 132.8 1110 132.4 1114L128.8 1122.4C119 1117.4 108 1116.4 96.4 1118.4C96 1114 96.6 1110.6 97.6 1108L103 1104C105 1100 106.4 1095 107.2 1090Z" fill="#82b6d9"/>
<path d="M112.6 1075L122.4 1078L122.4 1084.6C121 1088.6 119 1090.6 116.8 1090.8C114.6 1090.6 112.4 1087.6 111.6 1083.2Z" fill="#f6b997"/>
<path d="M111.2 1083.4C112.2 1088.6 114.6 1091.6 116.8 1091.6C119.2 1091.6 121.4 1089 122.6 1084.6" stroke="#6fb0e3" stroke-width="1.4" fill="none"/>
<path d="M113.6 1077.6L119.6 1079.8" stroke="#ee9a8a" stroke-width="0.8" fill="none"/>
<path d="M110.8 1062C114 1058.6 128 1058.6 130.8 1063.6L130.4 1074.6C130 1078 127.6 1079.4 125 1079.2C120 1079 115 1077 112.6 1074.6C111 1071 110.4 1066 110.8 1062Z" fill="#f6b997"/>
<path d="M108 1061C108.6 1055.6 114 1051.6 120 1051.4C126.6 1051.4 131.6 1055.6 132.2 1061.6L132 1064.6L130.6 1064.8C128.6 1061.4 125 1060 121.4 1060.2C117.4 1060.6 114.6 1062.4 113.4 1066.4L112.4 1071.4C109.6 1069 108 1065 108 1061Z" fill="#35150e"/>
<ellipse cx="107.3" cy="1055.4" rx="5.4" ry="6.2" fill="#35150e"/>
<path d="M116.4 1060.4L126.4 1058.6L130.8 1063.6L126.6 1062.2L123.4 1059.8L119 1062.8L114.6 1066.2L113.2 1070Z" fill="#35150e"/>
<ellipse cx="113.6" cy="1066.4" rx="1.1" ry="1.6" fill="#35150e"/>
<path d="M117.6 1063.4L122.4 1062.6M125.6 1063L129.6 1063.8M118.2 1066.6L121.6 1066.4M126 1066.8L128.8 1067.2M124.2 1064.6L124.6 1070L123.2 1070.2M120.6 1072.4C121.6 1073.4 123.4 1073.4 124.6 1072.4" stroke="#2a1410" stroke-width="0.9" fill="none" stroke-linecap="round"/>
<ellipse cx="132.6" cy="1160.6" rx="41.8" ry="43.4" fill="#8c8c8c"/>
<ellipse cx="131.2" cy="1162.6" rx="38.3" ry="40.5" fill="#8c8c8c" stroke="#585858" stroke-width="4"/>
<path d="M142 1136L160 1137.6C168 1138.6 172.6 1142.6 172.6 1147.6C172.6 1153 168.6 1157 162 1157.6L146 1158Z" fill="#f6b997"/>
<path d="M146.5 1159.2L199.3 1159.2L204.8 1166.1L199.3 1168.7L146.5 1167.9Z" fill="#585858"/>
<path d="M174.2 1152.1L188.7 1152.1L203.6 1166.4" stroke="#585858" stroke-width="2" fill="none" stroke-linejoin="round"/>
<path d="M143.9 1145L178.2 1164" stroke="#585858" stroke-width="1.6" fill="none"/>
<path d="M203 1165.8L239.6 1180.3" stroke="#585858" stroke-width="2.2" fill="none"/>
<circle cx="239.6" cy="1180.3" r="22" fill="none" stroke="#585858" stroke-width="4.4"/>
<circle cx="239.6" cy="1180.3" r="4.6" fill="#585858"/>
<ellipse cx="104.5" cy="1160.5" rx="41.8" ry="43.7" fill="#8c8c8c"/>
<ellipse cx="103.2" cy="1162.8" rx="38.5" ry="40.7" fill="#8c8c8c" stroke="#585858" stroke-width="4"/>
<circle cx="104.5" cy="1162.8" r="18.2" fill="#585858"/>
<circle cx="104.5" cy="1162.8" r="4.7" fill="#8c8c8c"/>
<path d="M104.6 1131.4C117 1132 127 1138.6 132 1147.4" stroke="#bdbdbd" stroke-width="0.8" fill="none"/>
<path d="M74 1170.6C77.6 1182 85.6 1190 96.6 1193.4" stroke="#bdbdbd" stroke-width="0.8" fill="none"/>
<path d="M105.4 1084.6C100 1086.6 92 1091.6 83.6 1098L69 1112.6C66.6 1115 66.2 1117.6 67.2 1120.6L76.8 1139.6L83.8 1147L92.6 1161.4L93.6 1168L95.4 1170L97 1168L99.6 1167.6L102 1162.6L100 1159L94.6 1149.8L82.4 1120L81.2 1119.4L97 1104.8L102.6 1103.6L107 1094Z" fill="#f6b997"/>
</g>
</g>
</svg>
</body>
</html>
